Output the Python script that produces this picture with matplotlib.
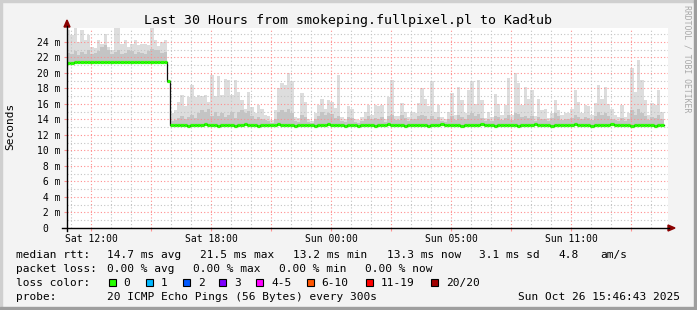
import numpy as np
import matplotlib
matplotlib.use("Agg")
import matplotlib.pyplot as plt
from matplotlib.patches import Rectangle, Polygon

W, H = 697, 310
MONO = "DejaVu Sans Mono"

# hours relative to Sat 12:00, smokeping step shown here as 10 min bins
t_start = -1.2
t_step = 1 / 6
x_lim = (-1.2, 28.85)
y_lim = (0, 25.8)

tick_hours = [0, 6, 12, 18, 24]
tick_labels = ["Sat 12:00", "Sat 18:00", "Sun 00:00", "Sun 05:00", "Sun 11:00"]

# median rtt per bin (ms)
median_ms = [
    21.30, 21.30, 21.35, 21.45, 21.45, 21.45, 21.45, 21.35, 21.45, 21.45,
    21.45, 21.45, 21.45, 21.45, 21.45, 21.40, 21.45, 21.45, 21.45, 21.45,
    21.45, 21.45, 21.45, 21.45, 21.45, 21.45, 21.45, 21.45, 21.45, 21.45,
    18.9,
    13.3, 13.3, 13.3, 13.3, 13.3, 13.2, 13.3, 13.3, 13.3, 13.3, 13.4, 13.3, 13.3, 13.3, 13.2,
    13.3, 13.3, 13.3, 13.3, 13.2, 13.3, 13.3, 13.4, 13.3, 13.3, 13.3, 13.2, 13.3, 13.3,
    13.3, 13.3, 13.3, 13.4, 13.3, 13.3, 13.3, 13.3, 13.2, 13.3, 13.3, 13.3, 13.3, 13.3, 13.2,
    13.3, 13.3, 13.3, 13.4, 13.3, 13.3, 13.3, 13.3, 13.2, 13.3, 13.3, 13.3, 13.2, 13.3, 13.3,
    13.3, 13.3, 13.2, 13.3, 13.3, 13.3, 13.4, 13.3, 13.3, 13.3, 13.3, 13.2, 13.3, 13.3, 13.3,
    13.3, 13.3, 13.3, 13.2, 13.3, 13.3, 13.3, 13.4, 13.3, 13.3, 13.3, 13.3, 13.3, 13.2, 13.3,
    13.3, 13.3, 13.3, 13.3, 13.4, 13.3, 13.3, 13.3, 13.2, 13.3, 13.3, 13.3, 13.3, 13.3, 13.3,
    13.2, 13.3, 13.3, 13.3, 13.3, 13.4, 13.3, 13.3, 13.3, 13.3, 13.2, 13.3, 13.3, 13.3, 13.3,
    13.3, 13.3, 13.4, 13.3, 13.3, 13.3, 13.3, 13.2, 13.3, 13.3, 13.3, 13.3, 13.3, 13.4, 13.3,
    13.3, 13.3, 13.3, 13.3, 13.2, 13.3, 13.3, 13.3, 13.3, 13.3, 13.3, 13.2, 13.3, 13.3,
]

# inner (darker) smoke band top per bin (ms)
smoke_mid = [
    22.6, 22.4, 22.8, 22.3, 22.7, 22.5, 22.9, 22.4, 22.6, 22.8,
    23.4, 23.6, 23.0, 22.5, 22.7, 22.9, 22.4, 22.6, 23.0, 22.8,
    22.5, 22.7, 22.6, 22.4, 22.8, 23.1, 22.9, 23.0, 22.6, 22.7,
    19.0,
    13.8, 13.9, 14.2, 14.5, 14.0, 14.3, 14.6, 14.2, 14.8, 15.2, 15.0, 15.3, 14.5, 14.9, 14.4,
    14.8, 14.3, 14.6, 14.9, 14.2, 15.0, 15.2, 14.8, 15.1, 14.5, 14.0, 14.3, 14.1, 13.9,
    13.8, 13.6, 14.0, 14.9, 15.2, 15.0, 15.4, 14.8, 13.8, 13.7, 14.6, 14.3, 13.7, 13.6, 14.0,
    14.5, 14.9, 14.6, 14.8, 14.7, 14.2, 14.5, 13.8, 13.7, 14.3, 14.2, 13.7, 13.6, 13.8, 14.0,
    14.4, 14.0, 14.2, 14.1, 14.3, 13.7, 14.4, 14.6, 13.9, 13.9, 14.6, 14.2, 13.8, 14.0, 14.1,
    14.5, 14.6, 14.4, 14.0, 14.5, 14.1, 14.3, 13.8, 13.7, 14.0, 14.4, 13.9, 14.6, 14.3, 14.0,
    14.6, 14.8, 14.4, 14.7, 14.2, 13.8, 14.0, 13.8, 14.4, 14.3, 13.9, 14.2, 14.6, 13.9, 14.8,
    14.7, 14.3, 14.5, 14.2, 14.4, 13.8, 14.3, 14.0, 14.1, 13.8, 14.2, 14.8, 14.4, 13.9, 14.0,
    14.0, 14.2, 14.6, 14.3, 14.0, 14.3, 14.2, 13.9, 14.5, 14.9, 14.6, 14.8, 14.4, 14.1, 13.9,
    13.8, 14.2, 13.8, 14.0, 15.2, 14.6, 15.4, 14.8, 14.4, 13.9, 14.3, 14.2, 14.6, 14.0,
]

# outer smoke (max ping) per bin (ms)
smoke_top = [
    25.5, 24.9, 25.8, 24.0, 25.6, 24.3, 24.9, 23.3, 23.2, 24.3,
    23.7, 25.0, 23.4, 23.0, 25.8, 25.8, 23.8, 24.2, 23.4, 23.8,
    24.3, 23.6, 23.8, 23.8, 23.6, 25.8, 24.3, 23.5, 24.0, 24.2,
    19.0,
    14.8, 15.2, 16.3, 17.2, 15.7, 16.9, 18.4, 16.9, 17.2, 17.0, 17.2, 16.3, 19.7, 17.0, 19.6,
    17.2, 19.2, 19.1, 17.2, 19.1, 17.6, 16.5, 15.4, 17.6, 15.6, 14.8, 15.9, 15.4, 14.6,
    14.5, 13.9, 15.2, 18.0, 18.7, 18.4, 20.0, 18.9, 14.3, 14.2, 17.4, 16.3, 14.0, 13.8, 14.8,
    15.9, 16.7, 15.4, 16.5, 16.3, 15.5, 19.7, 14.3, 14.0, 15.7, 15.4, 14.0, 13.9, 14.3, 15.0,
    15.9, 14.6, 15.9, 15.7, 15.9, 14.0, 16.9, 19.1, 14.4, 14.4, 16.1, 15.0, 14.3, 15.0, 14.8,
    16.1, 18.0, 16.7, 15.7, 18.9, 15.0, 15.9, 14.3, 14.0, 15.0, 17.4, 14.6, 18.2, 16.5, 14.8,
    17.8, 18.9, 16.0, 19.1, 16.5, 14.2, 15.0, 14.3, 17.3, 16.0, 14.6, 15.9, 19.3, 14.6, 20.0,
    18.7, 15.9, 18.2, 16.6, 17.8, 14.4, 16.7, 15.2, 15.4, 14.2, 14.8, 16.5, 15.2, 14.6, 14.8,
    14.8, 15.4, 17.8, 16.3, 14.8, 15.9, 15.7, 14.6, 16.1, 18.5, 16.7, 18.2, 16.0, 15.4, 14.6,
    14.3, 15.9, 14.3, 14.8, 20.6, 17.5, 21.7, 19.1, 16.5, 14.6, 16.1, 15.9, 17.8, 15.0,
]

stats_rtt = ["14.7 ms avg", "21.5 ms max", "13.2 ms min", "13.3 ms now", "3.1 ms sd", "4.8", "am/s"]
stats_loss = ["0.00 % avg", "0.00 % max", "0.00 % min", "0.00 % now"]
loss_names = ["0", "1", "2", "3", "4-5", "6-10", "11-19", "20/20"]
loss_colors = ["#26ff00", "#00b8ff", "#0059ff", "#7e00ff", "#ff00ff", "#ff5500", "#ff0000", "#a10000"]


def fx(x):
    return x / W


def fy(y):
    return 1 - y / H


fig = plt.figure(figsize=(W / 100, H / 100), dpi=100)
fig.patch.set_facecolor("#f3f3f3")
ax = fig.add_axes([fx(67), fy(228), (668 - 67) / W, 200 / H])
ax.set_facecolor("white")

med = np.array(median_ms)
mid = np.array(smoke_mid)
top = np.array(smoke_top)
low = med - 0.15
edges = t_start + np.arange(len(med) + 1) * t_step


def ext(a):
    return np.append(a, a[-1])


ax.fill_between(edges, ext(low), ext(top), step="post", color="#dddddd", lw=0, zorder=1)
ax.fill_between(edges, ext(low), ext(mid), step="post", color="#c4c4c4", lw=0, zorder=1.5)
ax.step(edges, ext(med), where="post", color="#101010", lw=0.9, zorder=3)
ax.hlines(med, edges[:-1], edges[1:], color="#26ff00", lw=2.3, zorder=4)

ax.set_xlim(*x_lim)
ax.set_ylim(*y_lim)

major_x = np.arange(0, 28, 3)
ax.set_xticks(major_x)
ax.set_xticklabels([tick_labels[tick_hours.index(h)] if h in tick_hours else "" for h in major_x])
ax.set_xticks([h for h in range(-1, 29) if h % 3], minor=True)
ax.set_yticks(np.arange(0, 25, 2))
ax.set_yticklabels(["0  "] + [f"{v:2d} m" for v in range(2, 25, 2)])
ax.set_yticks(np.arange(1, 26, 2), minor=True)

ax.grid(which="major", color="#ff8c8c", ls=(0, (1, 2)), lw=0.8)
ax.grid(which="minor", color="#c4c4c4", ls=(0, (1, 2)), lw=0.8)
ax.set_axisbelow(False)

ax.tick_params(which="both", length=2, color="#ff9090", labelsize=7, pad=2.5)
ax.tick_params(axis="x", which="minor", length=0)
ax.tick_params(axis="y", which="minor", length=0)
for lab in ax.get_xticklabels() + ax.get_yticklabels():
    lab.set_fontfamily(MONO)
for s in ax.spines.values():
    s.set_visible(False)

# axis lines with arrows
fig.add_artist(plt.Line2D([fx(67), fx(67)], [fy(231), fy(26)], color="black", lw=1))
fig.add_artist(plt.Line2D([fx(62), fx(669)], [fy(228), fy(228)], color="black", lw=1))
fig.add_artist(Polygon([(fx(67), fy(20)), (fx(64), fy(27)), (fx(70), fy(27))],
                       closed=True, color="#8b0000", transform=fig.transFigure))
fig.add_artist(Polygon([(fx(675), fy(228)), (fx(668), fy(225)), (fx(668), fy(231))],
                       closed=True, color="#8b0000", transform=fig.transFigure))

# frame shading
fig.add_artist(Rectangle((0, fy(2)), 1, 2 / H, color="#cfcfcf", transform=fig.transFigure))
fig.add_artist(Rectangle((0, 0), 2 / W, 1, color="#cfcfcf", transform=fig.transFigure))
fig.add_artist(Rectangle((0, 0), 1, 3 / H, color="#9e9e9e", transform=fig.transFigure))
fig.add_artist(Rectangle((fx(694), 0), 3 / W, 1, color="#9e9e9e", transform=fig.transFigure))

fig.text(0.5, fy(24), "Last 30 Hours from smokeping.fullpixel.pl to Kadłub",
         ha="center", va="baseline", family=MONO, fontsize=9.5)
fig.text(fx(10), fy(126.5), "Seconds", rotation=90, ha="center", va="center",
         family=MONO, fontsize=8)
fig.text(fx(687), fy(59), "RRDTOOL / TOBI OETIKER", rotation=270, ha="center", va="center",
         family=MONO, fontsize=5.9, color="#a8a8a8")

# legend rows
txt = dict(family=MONO, fontsize=8, va="baseline")
fig.text(fx(16), fy(258), "median rtt:", **txt)
for s, x in zip(stats_rtt, [107, 200, 293, 387, 479, 558, 600]):
    fig.text(fx(x), fy(258), s, **txt)
fig.text(fx(16), fy(272), "packet loss:", **txt)
for s, x in zip(stats_loss, [107, 193, 279, 365]):
    fig.text(fx(x), fy(272), s, **txt)
fig.text(fx(16), fy(286), "loss color:", **txt)
for name, c, x in zip(loss_names, loss_colors, [108.7, 145.7, 182.7, 219, 256, 306.7, 365.7, 430.7]):
    fig.add_artist(Rectangle((fx(x), fy(286)), 7 / W, 7 / H, facecolor=c, edgecolor="black",
                             lw=0.8, transform=fig.transFigure))
    fig.text(fx(x + 15), fy(286), name, **txt)
fig.text(fx(16), fy(300), "probe:", **txt)
fig.text(fx(107), fy(300), "20 ICMP Echo Pings (56 Bytes) every 300s", **txt)
fig.text(fx(680), fy(300), "Sun Oct 26 15:46:43 2025", ha="right", family=MONO,
         fontsize=8, va="baseline")

fig.savefig("out.png", dpi=100, facecolor=fig.get_facecolor())
